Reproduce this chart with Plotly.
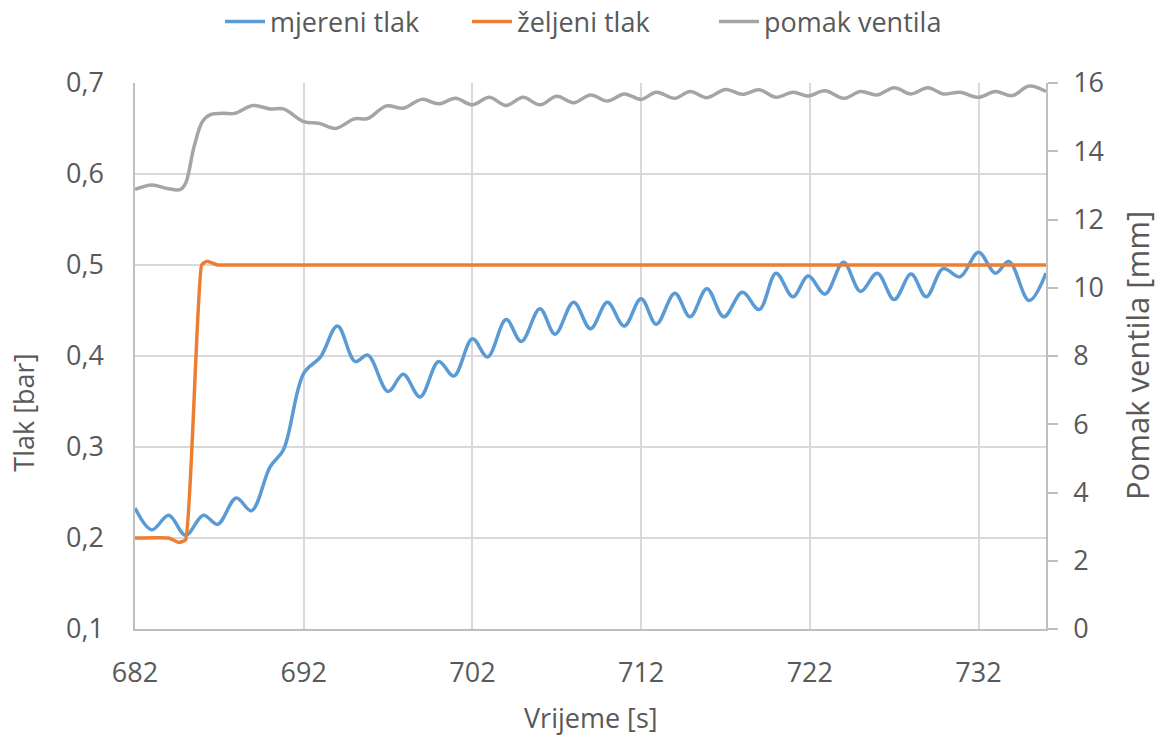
import plotly.graph_objects as go

# Measured pressure [bar]
t_mjereni = [682.0, 683.0, 684.0, 685.0, 686.05, 686.9, 688.0, 688.9, 690.0, 690.8,
             692.0, 693.0, 694.0, 695.05, 695.8, 697.0, 697.9, 698.9, 700.0, 700.9,
             702.0, 702.9, 704.0, 704.9, 706.0, 706.9, 708.0, 709.0, 710.0, 711.0,
             712.0, 712.9, 714.0, 714.9, 715.9, 716.9, 718.0, 719.0, 720.0, 721.0,
             721.9, 722.9, 724.0, 725.0, 726.0, 727.0, 728.0, 728.9, 729.9, 730.9,
             732.0, 733.0, 733.8, 735.0, 736.0]
p_mjereni = [0.233, 0.209, 0.225, 0.203, 0.225, 0.215, 0.244, 0.230, 0.278, 0.297,
             0.381, 0.399, 0.433, 0.394, 0.401, 0.361, 0.380, 0.355, 0.394, 0.378,
             0.419, 0.399, 0.440, 0.416, 0.452, 0.424, 0.459, 0.430, 0.459, 0.433,
             0.463, 0.435, 0.469, 0.443, 0.474, 0.443, 0.470, 0.451, 0.491, 0.465,
             0.488, 0.468, 0.503, 0.471, 0.491, 0.462, 0.490, 0.465, 0.496, 0.487,
             0.514, 0.491, 0.504, 0.461, 0.491]

# Set-point pressure [bar]
t_zeljeni = [682.0, 684.0, 684.6, 685.0, 685.95, 686.25, 686.9, 687.6, 735.0, 736.0]
p_zeljeni = [0.200, 0.200, 0.195, 0.198, 0.500, 0.504, 0.500, 0.500, 0.500, 0.500]

# Valve displacement [mm]
t_ventil = [682.0, 683.0, 683.9, 684.7, 685.0, 685.5, 686.0, 686.5, 687.2, 687.9,
            689.0, 690.0, 690.8, 692.0, 692.9, 693.9, 695.0, 695.8, 696.9, 697.9,
            699.0, 700.0, 701.0, 702.0, 703.0, 704.0, 705.0, 706.0, 707.0, 708.0,
            709.0, 710.0, 711.0, 712.0, 712.9, 714.0, 714.9, 715.9, 717.0, 718.0,
            719.0, 720.0, 721.0, 721.9, 722.9, 724.0, 725.0, 726.0, 727.0, 728.0,
            729.0, 729.9, 730.9, 732.0, 733.0, 734.0, 735.0, 736.0]
pomak = [12.88, 13.01, 12.91, 12.88, 13.06, 14.13, 14.87, 15.08, 15.11, 15.11,
         15.34, 15.24, 15.24, 14.87, 14.82, 14.67, 14.95, 14.96, 15.33, 15.26,
         15.52, 15.39, 15.55, 15.36, 15.58, 15.34, 15.58, 15.36, 15.61, 15.42,
         15.65, 15.47, 15.68, 15.52, 15.73, 15.55, 15.75, 15.57, 15.81, 15.67,
         15.80, 15.58, 15.73, 15.62, 15.77, 15.55, 15.75, 15.65, 15.86, 15.68,
         15.86, 15.68, 15.73, 15.58, 15.75, 15.63, 15.91, 15.75]

FONT = "Open Sans, Lato, sans-serif"
TXT = "#595959"
GRID = "#D9D9D9"
AXLINE = "#BFBFBF"

fig = go.Figure()
fig.add_trace(go.Scatter(x=t_mjereni, y=p_mjereni, name="mjereni tlak", mode="lines",
                         line=dict(color="#5B9BD5", width=3.5, shape="spline", smoothing=1)))
fig.add_trace(go.Scatter(x=t_zeljeni, y=p_zeljeni, name="željeni tlak", mode="lines",
                         line=dict(color="#ED7D31", width=3.5, shape="spline", smoothing=0.4)))
fig.add_trace(go.Scatter(x=t_ventil, y=pomak, name="pomak ventila", mode="lines", yaxis="y2",
                         line=dict(color="#A5A5A5", width=3.5, shape="spline", smoothing=1)))

fig.update_layout(
    width=1161, height=736,
    margin=dict(l=135, r=115, t=83, b=107, autoexpand=False),
    paper_bgcolor="white", plot_bgcolor="white",
    separators=",.",
    font=dict(family=FONT, size=27, color=TXT),
    showlegend=True,
    legend=dict(orientation="h", x=0.5, xanchor="center", y=1.112, yanchor="middle",
                font=dict(family=FONT, size=27, color=TXT), itemwidth=40,
                entrywidth=192, entrywidthmode="pixels",
                bgcolor="rgba(0,0,0,0)"),
    xaxis=dict(range=[682, 736], tick0=682, dtick=10, showgrid=True, gridcolor=GRID,
               gridwidth=1.5, showline=True, linecolor=AXLINE, linewidth=1.5,
               zeroline=False, ticks="", ticklabelstandoff=19,
               tickfont=dict(family=FONT, size=27, color=TXT)),
    yaxis=dict(range=[0.1, 0.7], tick0=0.1, dtick=0.1, tickformat=".1f", showgrid=True,
               gridcolor=GRID, gridwidth=1.5, showline=True, linecolor=AXLINE,
               linewidth=1.5, zeroline=False, ticks="", ticklabelstandoff=24,
               tickfont=dict(family=FONT, size=27, color=TXT)),
    yaxis2=dict(range=[0, 16], tick0=0, dtick=2, overlaying="y", side="right",
                showgrid=False, showline=True, linecolor=AXLINE, linewidth=1.5,
                zeroline=False, ticks="outside", ticklen=10, tickwidth=1.5,
                tickcolor=AXLINE, ticklabelstandoff=10,
                tickfont=dict(family=FONT, size=27, color=TXT)),
    annotations=[
        dict(text="Vrijeme [s]", xref="paper", yref="paper", x=0.5, y=-0.163,
             xanchor="center", yanchor="middle", showarrow=False,
             font=dict(family=FONT, size=27, color=TXT)),
        dict(text="Tlak [bar]", xref="paper", yref="paper", x=-0.122, y=0.396,
             xanchor="center", yanchor="middle", showarrow=False, textangle=-90,
             font=dict(family=FONT, size=27, color=TXT)),
        dict(text="Pomak ventila [mm]", xref="paper", yref="paper", x=1.1, y=0.5,
             xanchor="center", yanchor="middle", showarrow=False, textangle=-90,
             font=dict(family=FONT, size=31, color=TXT)),
    ],
)

fig.write_html("out.html")
